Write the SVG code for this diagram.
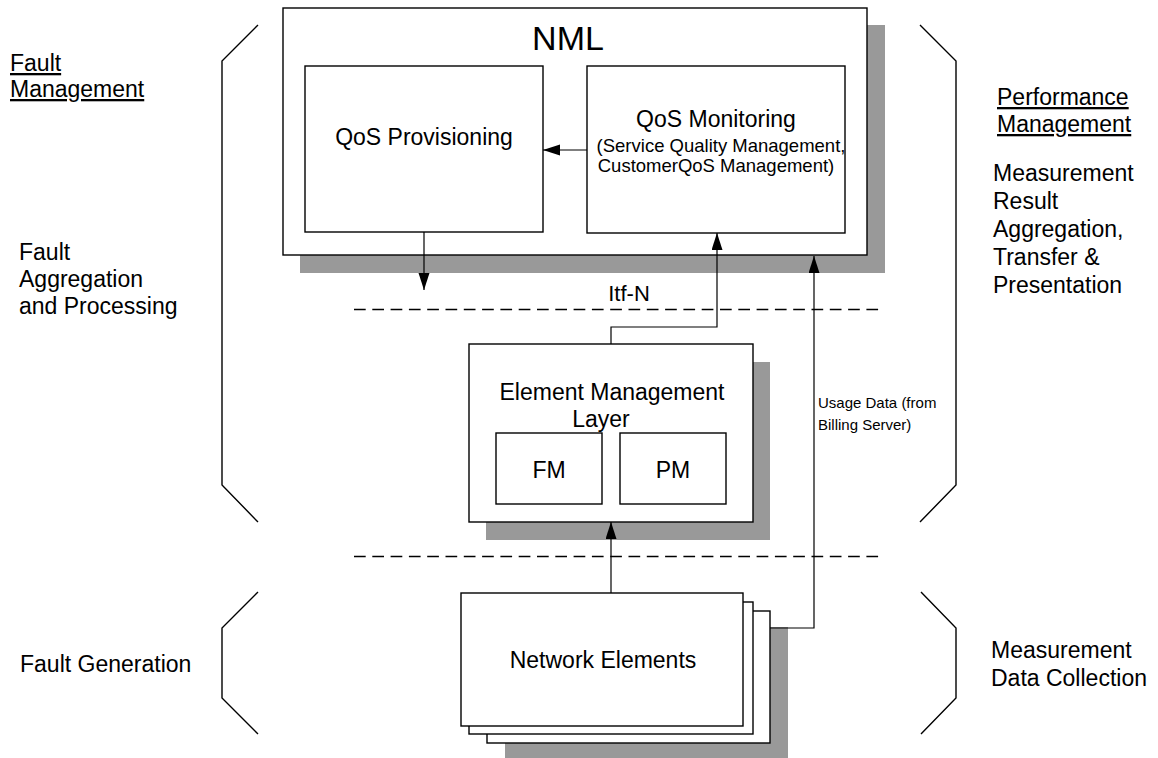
<svg xmlns="http://www.w3.org/2000/svg" width="1158" height="758" viewBox="0 0 1158 758">
<defs>
<style>
text{font-family:"Liberation Sans",Arial,sans-serif;fill:#000}
.box{fill:#fff;stroke:#000;stroke-width:1.4}
.sh{fill:#999}
.br{fill:none;stroke:#000;stroke-width:1.4}
.con{fill:none;stroke:#000;stroke-width:1.2}
.dash{fill:none;stroke:#000;stroke-width:1.3;stroke-dasharray:11.7 6.6}
.lbl{font-size:23px}
.ul{text-decoration:underline}
</style>
<marker id="ah" markerUnits="userSpaceOnUse" markerWidth="18" markerHeight="12" refX="17" refY="5.5" orient="auto">
<path d="M0,0 L17,5.5 L0,11 z" fill="#000"/>
</marker>
</defs>
<rect width="1158" height="758" fill="#fff"/>

<g id="brackets">
<path class="br" d="M258,25 L222,61 L222,485 L258,522"/>
<path class="br" d="M920,25 L956,61 L956,485 L920,522"/>
<path class="br" d="M258,592 L222,628 L222,698 L258,734"/>
<path class="br" d="M921,592 L956,628 L956,698 L921,734"/>
</g>

<g id="layer-lines">
<line class="dash" x1="354" y1="309.5" x2="882" y2="309.5"/>
<line class="dash" x1="354" y1="556.5" x2="882" y2="556.5"/>
</g>

<g id="nml">
<rect class="sh" x="300" y="25" width="585" height="248"/>
<rect class="box" x="283" y="8" width="584" height="247"/>
<text x="568" y="50" font-size="34" text-anchor="middle">NML</text>
</g>

<g id="qos-provisioning">
<rect class="box" x="305" y="66" width="238" height="166"/>
<text class="lbl" x="424" y="145" text-anchor="middle">QoS Provisioning</text>
</g>

<g id="qos-monitoring">
<rect class="box" x="587" y="66" width="258" height="167"/>
<text class="lbl" x="716" y="127" text-anchor="middle">QoS Monitoring</text>
<text x="721" y="152" font-size="18.5" text-anchor="middle">(Service Quality Management,</text>
<text x="716" y="172" font-size="18.5" text-anchor="middle">CustomerQoS Management)</text>
</g>

<g id="itf-n">
<text x="629" y="301" font-size="22" text-anchor="middle">Itf-N</text>
</g>

<g id="eml">
<rect class="sh" x="486" y="362" width="284" height="178"/>
<rect class="box" x="469" y="344" width="284" height="178"/>
<text class="lbl" x="612" y="400" text-anchor="middle">Element Management</text>
<text class="lbl" x="601" y="427" text-anchor="middle">Layer</text>
<g id="fm">
<rect class="box" x="496" y="433" width="106" height="71"/>
<text class="lbl" x="549" y="478" text-anchor="middle">FM</text>
</g>
<g id="pm">
<rect class="box" x="620" y="433" width="106" height="71"/>
<text class="lbl" x="673" y="478" text-anchor="middle">PM</text>
</g>
</g>

<g id="network-elements">
<rect class="sh" x="505" y="627" width="283" height="131"/>
<rect class="box" x="487" y="611" width="283" height="132"/>
<rect class="box" x="469" y="602" width="284" height="132"/>
<rect class="box" x="461" y="593" width="282" height="133"/>
<text class="lbl" x="603" y="668" text-anchor="middle">Network Elements</text>
</g>

<g id="connectors">
<line class="con" x1="587" y1="150" x2="543" y2="150" marker-end="url(#ah)"/>
<line class="con" x1="424" y1="232" x2="424" y2="290" marker-end="url(#ah)"/>
<path class="con" d="M611,344 V327 H717 V233" marker-end="url(#ah)"/>
<path class="con" d="M770,628 H814 V256" marker-end="url(#ah)"/>
<line class="con" x1="611" y1="593" x2="611" y2="522" marker-end="url(#ah)"/>
<text x="818" y="408" font-size="15">Usage Data (from</text>
<text x="818" y="430" font-size="15">Billing Server)</text>
</g>

<g id="labels">
<text class="lbl ul" x="10" y="71">Fault</text>
<text class="lbl ul" x="10" y="97">Management</text>
<text class="lbl" x="19" y="260">Fault</text>
<text class="lbl" x="19" y="287">Aggregation</text>
<text class="lbl" x="19" y="314">and Processing</text>
<text class="lbl" x="20" y="672">Fault Generation</text>
<text class="lbl ul" x="997" y="105">Performance</text>
<text class="lbl ul" x="997" y="132">Management</text>
<text class="lbl" x="993" y="181">Measurement</text>
<text class="lbl" x="993" y="209">Result</text>
<text class="lbl" x="993" y="237">Aggregation,</text>
<text class="lbl" x="993" y="265">Transfer &amp;</text>
<text class="lbl" x="993" y="293">Presentation</text>
<text class="lbl" x="991" y="658">Measurement</text>
<text class="lbl" x="991" y="686">Data Collection</text>
</g>
</svg>
